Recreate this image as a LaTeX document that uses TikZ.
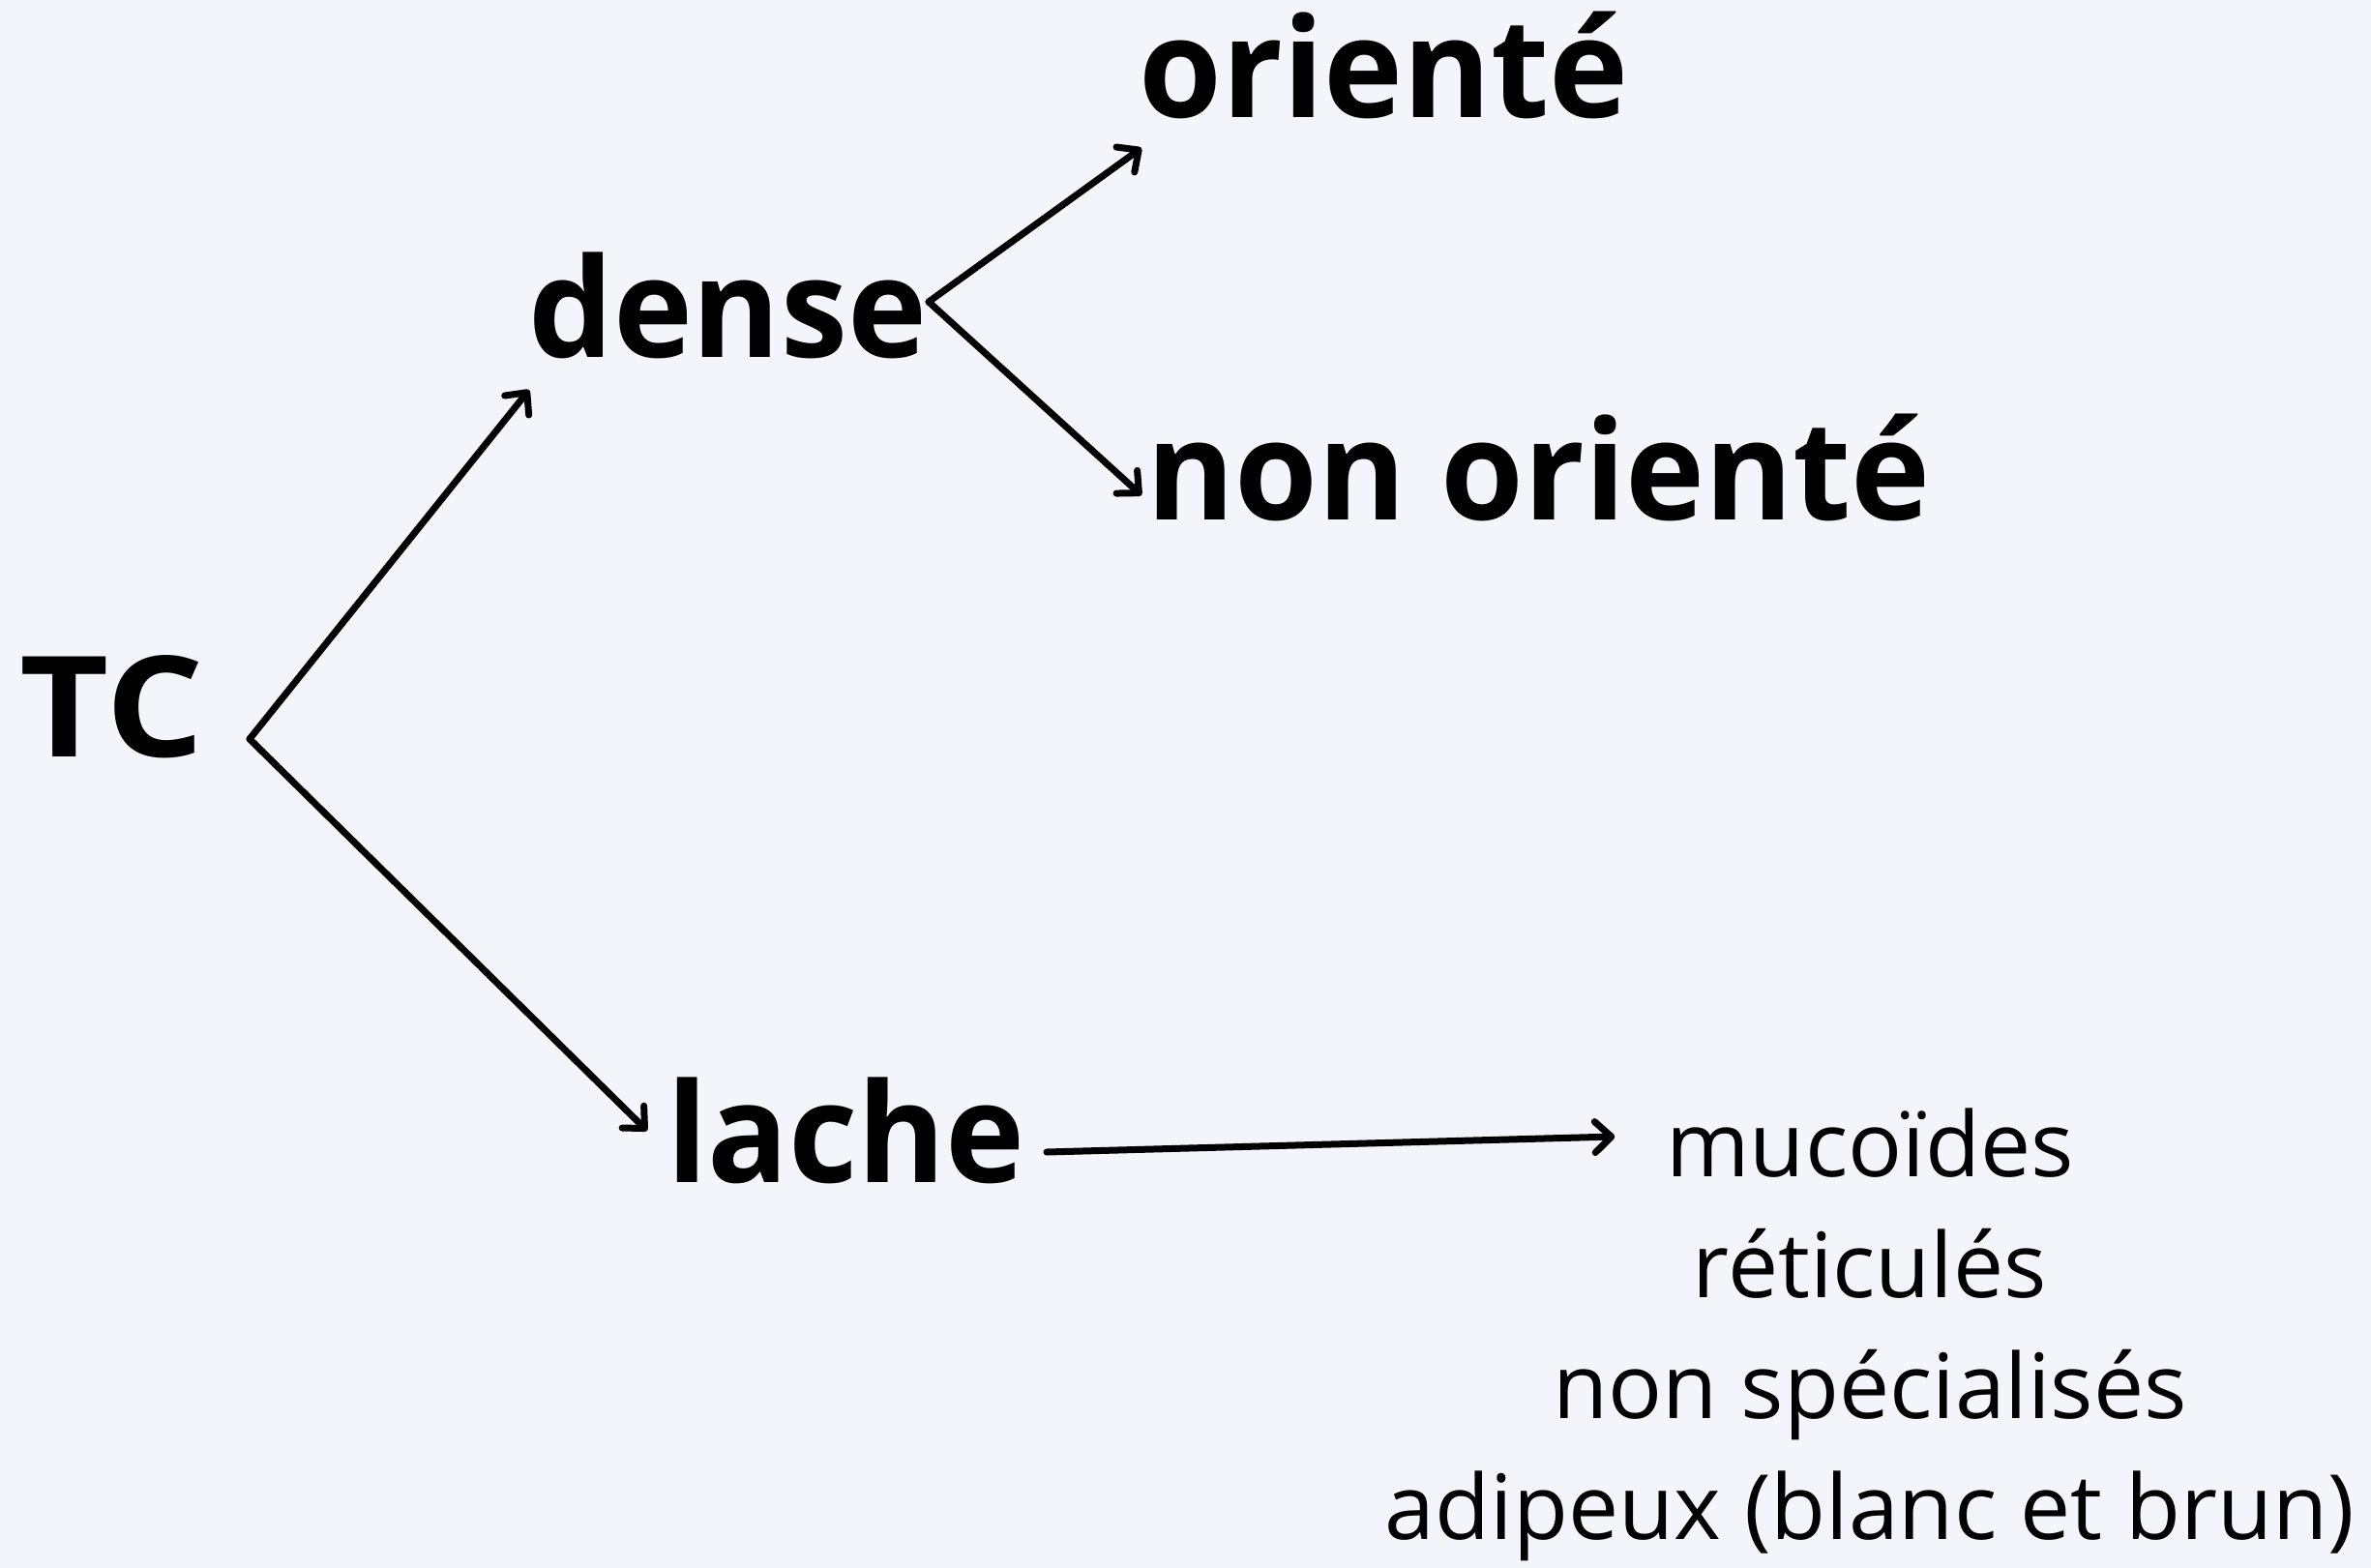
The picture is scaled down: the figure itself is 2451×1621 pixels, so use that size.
\documentclass[tikz,border=0pt]{standalone}
\usepackage{fontspec}
\usetikzlibrary{arrows.meta,calc}
\newfontfamily\headf{Open Sans}[FakeStretch=0.97]
\newfontfamily\tcf{Open Sans}[FakeStretch=1.1]
\newfontfamily\bodyf{Open Sans}
\definecolor{bgc}{HTML}{F4F5FA}
\begin{document}
\begin{tikzpicture}[x=1pt,y=-1pt,
  big/.style={inner sep=0pt,anchor=base west,font=\headf\bfseries\fontsize{143}{150}\selectfont},
  small/.style={inner sep=0pt,anchor=base,font=\bodyf\fontsize{93}{97}\selectfont},
  arr/.style={line width=7pt,line cap=round,line join=miter,-{Straight Barb[length=17pt,width=32pt,line cap=round,line join=round]}}]
\fill[bgc] (0,0) rectangle (2451,1621);
\useasboundingbox (0,0) rectangle (2451,1621);
\node[big,font=\tcf\bfseries\fontsize{145}{150}\selectfont] (tc) at (20,782) {TC};
\node[big] (dense) at (546,369) {dense};
\node[big] (or) at (1177,122) {orienté};
\node[big] (nor) at (1185,537) {non orienté};
\node[big] (lache) at (689,1222) {lache};
\node[small] (m1) at (1933,1216) {mucoïdes};
\node[small] (m2) at (1933,1341) {réticulés};
\node[small] (m3) at (1933,1466) {non spécialisés};
\node[small] (m4) at (1933,1591) {adipeux (blanc et brun)};
\coordinate (tcfork) at (258,764);
\coordinate (dfork) at (960,312);
\draw[arr] (tcfork) -- ($(dense.base west)+(1,34)$);
\draw[arr] (tcfork) -- ($(lache.base west)+(-20,-53)$);
\draw[arr] (dfork) -- ($(or.base west)+(3,31)$);
\draw[arr] (dfork) -- ($(nor.base west)+(-5,-25)$);
\draw[arr] ($(lache.base east)+(22,-31)$) -- ($(m1.base west)+(-53,-41)$);
\end{tikzpicture}
\end{document}
